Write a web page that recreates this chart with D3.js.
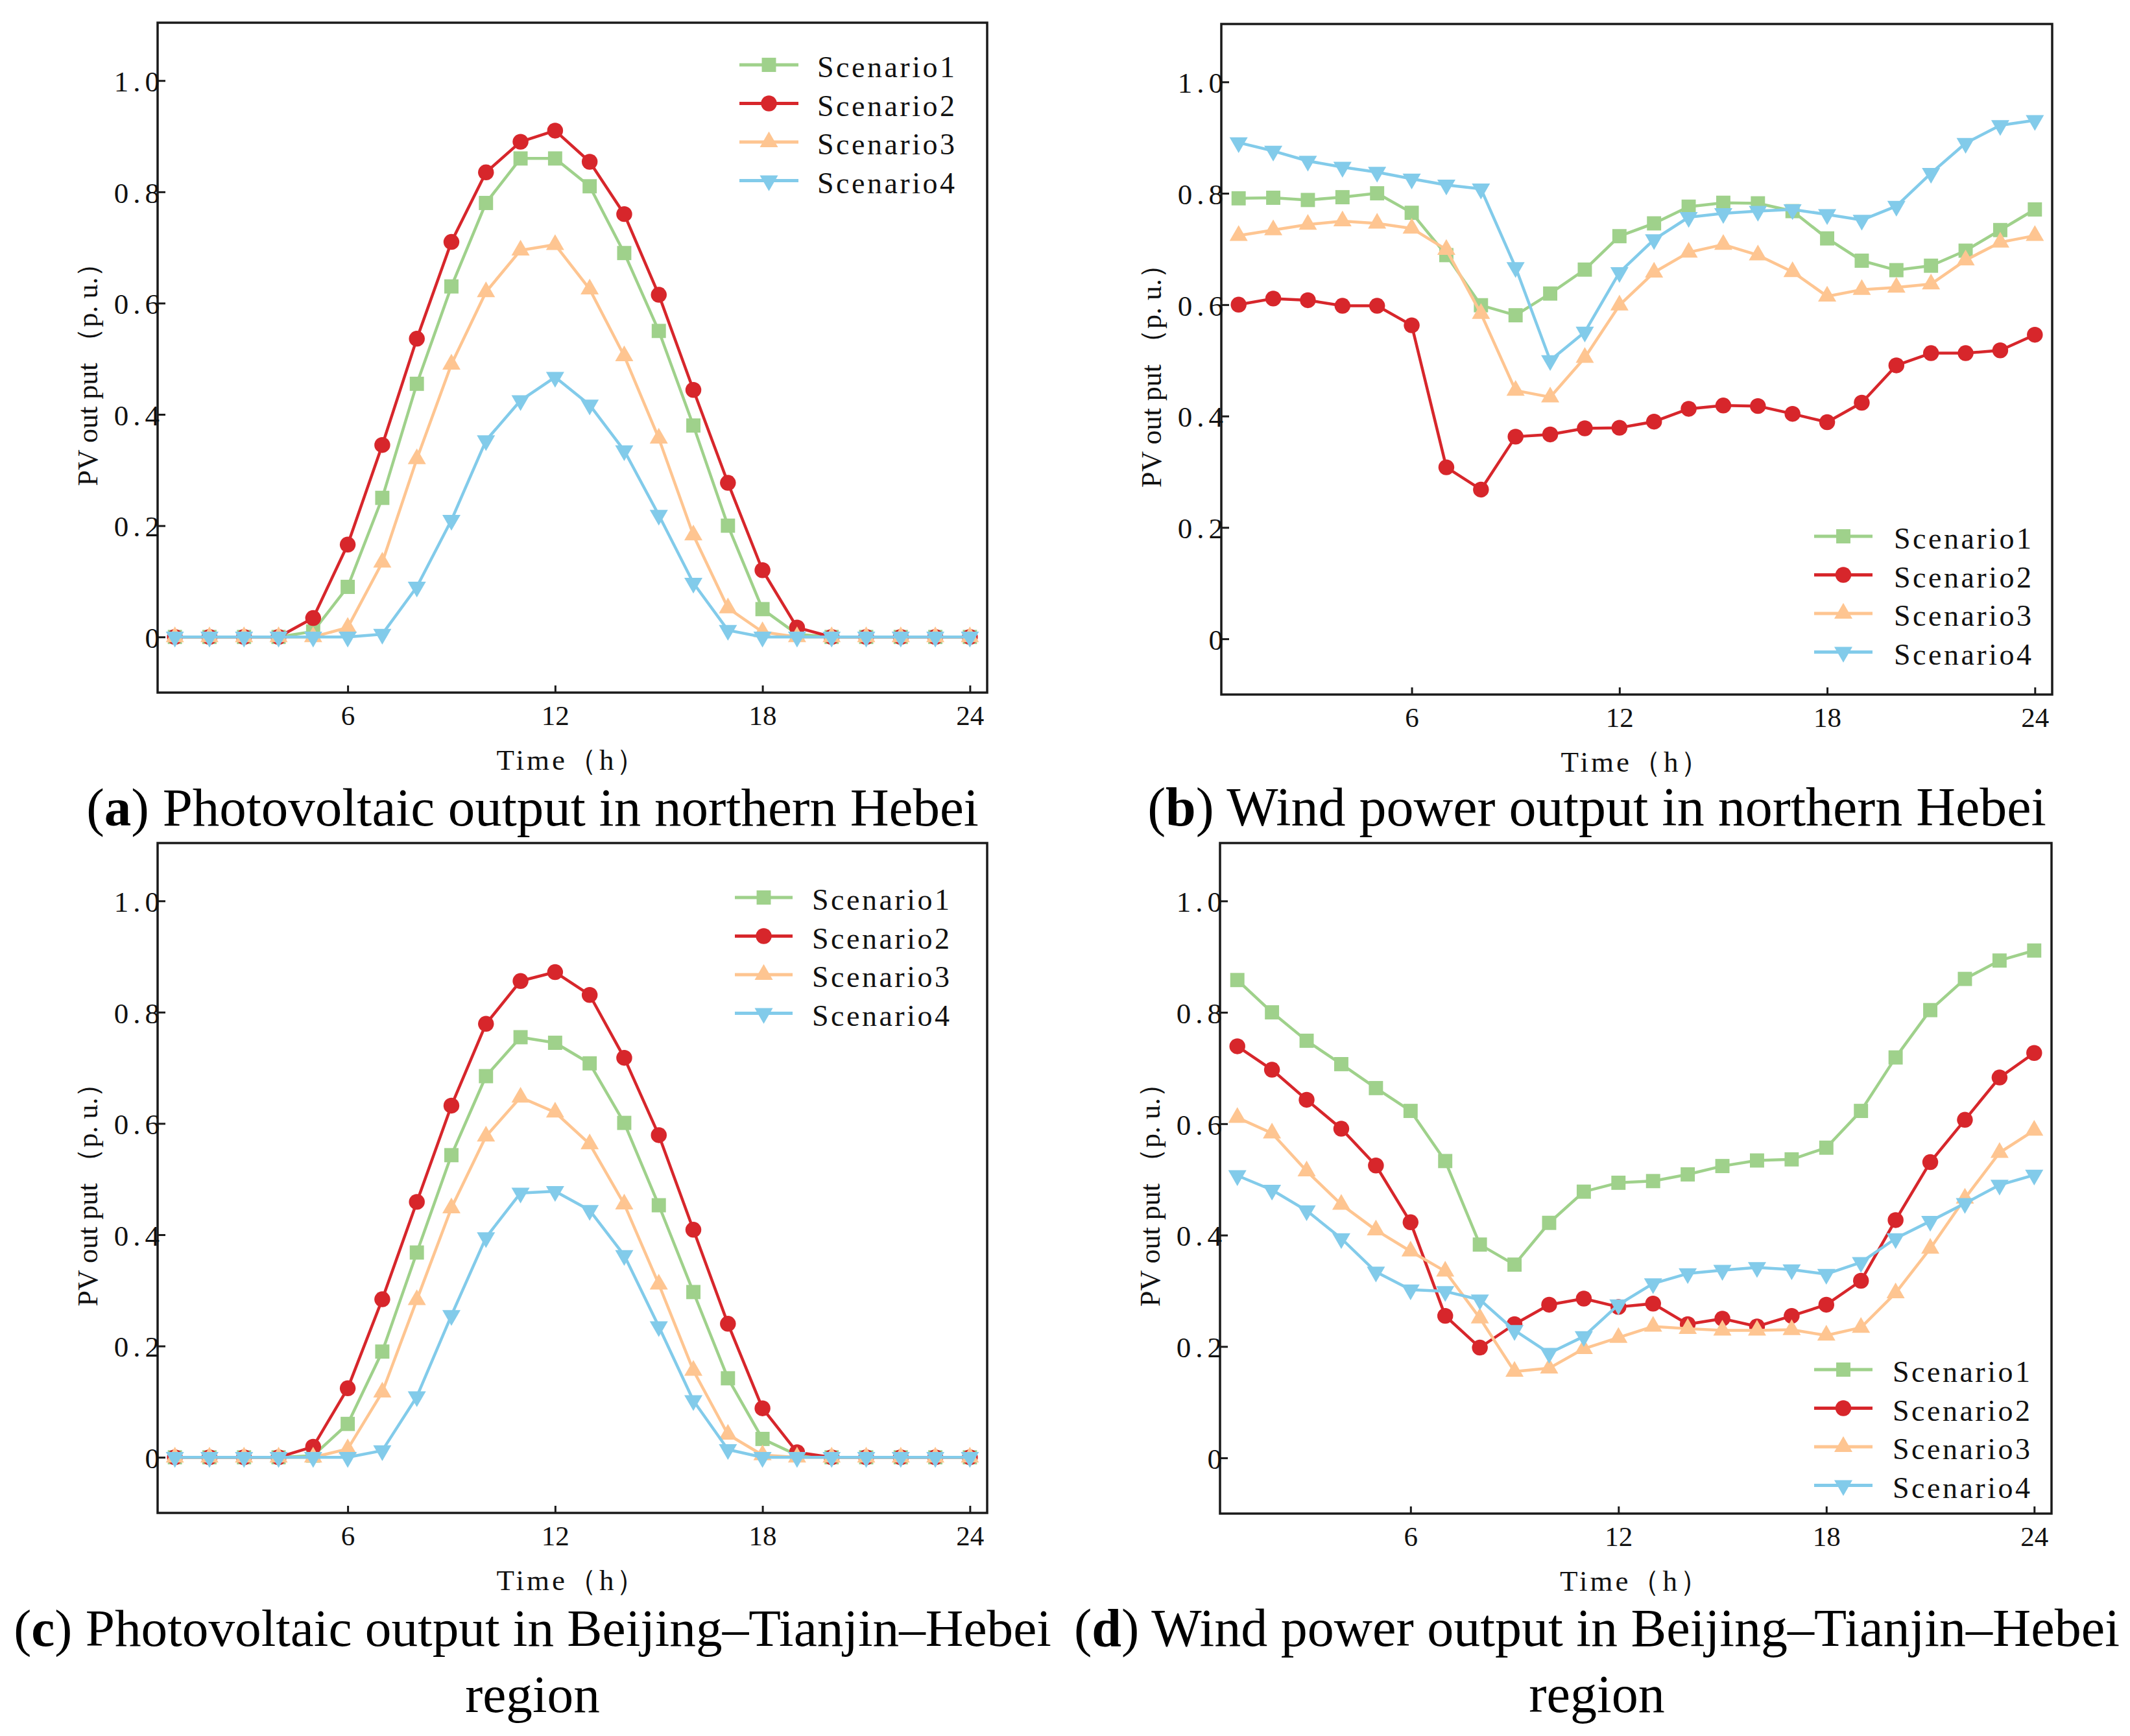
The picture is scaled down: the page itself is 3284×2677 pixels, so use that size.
<!DOCTYPE html>
<html><head><meta charset="utf-8">
<script src="https://cdn.jsdelivr.net/npm/d3@7/dist/d3.min.js"></script>
<style>body{margin:0;background:#fff} svg{display:block}</style>
</head><body>
<svg id="chart" width="3284" height="2677"></svg>
<script>
// ---------- data ----------
const hours = [1,2,3,4,5,6,7,8,9,10,11,12,13,14,15,16,17,18,19,20,21,22,23,24];
const xTickValues = [6,12,18,24];
const yTickValues = [0,0.2,0.4,0.6,0.8,1.0];
const seriesNames = ["Scenario1","Scenario2","Scenario3","Scenario4"];
const seriesColors = ["#9fd18b","#d7262b","#fec591","#82cbea"];
const seriesSymbols = ["square","circle","triangle","triangleDown"];

// (a) PV northern Hebei
const pvNorthS1 = [0,0,0,0,0.01,0.09,0.25,0.455,0.63,0.78,0.86,0.86,0.81,0.69,0.55,0.38,0.20,0.05,0.005,0,0,0,0,0];
const pvNorthS2 = [0,0,0,0,0.034,0.166,0.345,0.536,0.71,0.835,0.89,0.91,0.854,0.76,0.615,0.444,0.277,0.12,0.017,0,0,0,0,0];
const pvNorthS3 = [0,0,0,0,0,0.017,0.134,0.32,0.49,0.62,0.695,0.705,0.625,0.505,0.357,0.183,0.052,0.009,0,0,0,0,0,0];
const pvNorthS4 = [0,0,0,0,0,0,0.005,0.09,0.21,0.353,0.425,0.467,0.417,0.335,0.219,0.097,0.012,0,0,0,0,0,0,0];
// (b) Wind northern Hebei
const windNorthS1 = [0.791,0.792,0.788,0.793,0.80,0.765,0.689,0.599,0.581,0.62,0.663,0.723,0.746,0.776,0.783,0.782,0.768,0.719,0.679,0.662,0.670,0.697,0.734,0.771];
const windNorthS2 = [0.60,0.611,0.608,0.598,0.598,0.563,0.308,0.268,0.363,0.367,0.378,0.379,0.39,0.413,0.419,0.418,0.404,0.389,0.424,0.491,0.513,0.513,0.518,0.546];
const windNorthS3 = [0.724,0.734,0.744,0.75,0.746,0.737,0.699,0.584,0.446,0.434,0.505,0.599,0.658,0.694,0.708,0.689,0.659,0.615,0.627,0.631,0.637,0.68,0.712,0.724];
const windNorthS4 = [0.891,0.876,0.858,0.847,0.838,0.826,0.815,0.808,0.667,0.50,0.551,0.658,0.717,0.757,0.764,0.768,0.771,0.762,0.752,0.777,0.836,0.89,0.922,0.931];
// (c) PV Beijing–Tianjin–Hebei
const pvJJJS1 = [0,0,0,0,0.003,0.06,0.19,0.368,0.543,0.685,0.755,0.745,0.708,0.601,0.453,0.297,0.142,0.033,0.004,0,0,0,0,0];
const pvJJJS2 = [0,0,0,0,0.019,0.124,0.284,0.459,0.632,0.779,0.856,0.872,0.831,0.718,0.579,0.409,0.24,0.088,0.009,0,0,0,0,0];
const pvJJJS3 = [0,0,0,0,0,0.015,0.117,0.283,0.448,0.577,0.647,0.62,0.563,0.455,0.311,0.156,0.041,0.004,0,0,0,0,0,0];
const pvJJJS4 = [0,0,0,0,0,0,0.012,0.109,0.255,0.395,0.475,0.478,0.444,0.363,0.235,0.102,0.014,0,0,0,0,0,0,0];
// (d) Wind Beijing–Tianjin–Hebei
const windJJJS1 = [0.858,0.80,0.749,0.707,0.664,0.623,0.533,0.383,0.347,0.422,0.478,0.494,0.497,0.509,0.524,0.534,0.536,0.557,0.623,0.719,0.804,0.86,0.893,0.911];
const windJJJS2 = [0.739,0.697,0.643,0.591,0.525,0.423,0.255,0.198,0.24,0.275,0.286,0.271,0.277,0.24,0.25,0.236,0.255,0.275,0.318,0.427,0.531,0.607,0.683,0.727];
const windJJJS3 = [0.611,0.583,0.515,0.455,0.409,0.371,0.335,0.251,0.155,0.161,0.196,0.216,0.236,0.232,0.229,0.229,0.23,0.22,0.234,0.296,0.376,0.466,0.548,0.588];
const windJJJS4 = [0.507,0.481,0.444,0.394,0.334,0.302,0.299,0.284,0.229,0.188,0.218,0.275,0.313,0.331,0.337,0.342,0.338,0.33,0.351,0.394,0.425,0.457,0.49,0.508];

const yAxisTitle = "PV out put （p. u.）";
const xAxisTitle = "Time（h）";

// ---------- layout ----------
const panels = [
  {series:[pvNorthS1,pvNorthS2,pvNorthS3,pvNorthS4], frame:{l:243,t:35,r:1522,b:1068},
   legend:{x1:1140,x2:1231,tx:1260,y:100}, caption:[{letter:"a",text:" Photovoltaic output in northern Hebei"}], capX:821, capY:1273, capW:1376},
  {series:[windNorthS1,windNorthS2,windNorthS3,windNorthS4], frame:{l:1883,t:37,r:3164,b:1071},
   legend:{x1:2797,x2:2887,tx:2920,y:827}, caption:[{letter:"b",text:" Wind power output in northern Hebei"}], capX:2462, capY:1273, capW:1386},
  {series:[pvJJJS1,pvJJJS2,pvJJJS3,pvJJJS4], frame:{l:243,t:1300,r:1522,b:2333},
   legend:{x1:1133,x2:1222,tx:1252,y:1384}, caption:[{letter:"c",text:" Photovoltaic output in Beijing–Tianjin–Hebei"},{text:"region"}], capX:821, capY:2538, capW:1600},
  {series:[windJJJS1,windJJJS2,windJJJS3,windJJJS4], frame:{l:1881,t:1300,r:3163,b:2334},
   legend:{x1:2797,x2:2887,tx:2918,y:2112}, caption:[{letter:"d",text:" Wind power output in Beijing–Tianjin–Hebei"},{text:"region"}], capX:2462, capY:2538, capW:1612}
];

const svg = d3.select("#chart");
const tickFont = "'Liberation Serif','Times New Roman',serif";
const capFont = "'Liberation Serif','Times New Roman',serif";

const symbolFor = {
  square: d3.symbol().type(d3.symbolSquare).size(480),
  circle: d3.symbol().type(d3.symbolCircle).size(470),
  triangle: d3.symbol().type(d3.symbolTriangle).size(340),
  triangleDown: d3.symbol().type(d3.symbolTriangle).size(340)
};
function drawMarker(g, kind, x, y, color){
  g.append("path").attr("d", symbolFor[kind]())
    .attr("transform", `translate(${x},${y})` + (kind==="triangleDown" ? " rotate(180)" : ""))
    .attr("fill", color);
}

panels.forEach(p => {
  const f = p.frame;
  const x = d3.scaleLinear().domain([0.5,24.5]).range([f.l,f.r]);
  const y = d3.scaleLinear().domain([-0.1,1.104]).range([f.b,f.t]);
  const g = svg.append("g");

  // series
  p.series.forEach((vals,si) => {
    const line = d3.line().x((d,i)=>x(hours[i])).y(d=>y(d));
    g.append("path").datum(vals).attr("d", line)
      .attr("fill","none").attr("stroke",seriesColors[si]).attr("stroke-width",4.5)
      .attr("stroke-linejoin","round");
    vals.forEach((v,i)=> drawMarker(g, seriesSymbols[si], x(hours[i]), y(v), seriesColors[si]));
  });

  // frame
  g.append("rect").attr("x",f.l).attr("y",f.t).attr("width",f.r-f.l).attr("height",f.b-f.t)
    .attr("fill","none").attr("stroke","#1a1a1a").attr("stroke-width",3.5);

  // y axis
  const ya = g.append("g").attr("transform",`translate(${f.l},0)`)
    .call(d3.axisLeft(y).tickValues(yTickValues).tickSize(-12).tickPadding(-10)
      .tickFormat(d => d===0 ? "0" : d3.format(".1f")(d)));
  ya.select(".domain").remove();
  ya.selectAll(".tick line").attr("stroke","#1a1a1a").attr("stroke-width",3);
  ya.selectAll(".tick text").attr("font-family",tickFont).attr("font-size",45)
    .attr("fill","#111").style("letter-spacing","7px").attr("dy","0.36em");

  // x axis
  const xa = g.append("g").attr("transform",`translate(0,${f.b})`)
    .call(d3.axisBottom(x).tickValues(xTickValues).tickSize(-11).tickPadding(19).tickFormat(d3.format("d")));
  xa.select(".domain").remove();
  xa.selectAll(".tick line").attr("stroke","#1a1a1a").attr("stroke-width",3);
  xa.selectAll(".tick text").attr("font-family",tickFont).attr("font-size",43).attr("fill","#111");

  // axis titles
  g.append("text").attr("x",(f.l+f.r)/2).attr("y",f.b+119).attr("text-anchor","middle")
    .attr("font-family",tickFont).attr("font-size",45).attr("fill","#111")
    .style("letter-spacing","4px").text(xAxisTitle);
  const cy = (f.t+f.b)/2 + 15;
  g.append("text").attr("transform",`translate(${f.l-108},${cy}) rotate(-90)`)
    .attr("text-anchor","middle").attr("dominant-baseline","central")
    .attr("font-family",tickFont).attr("font-size",44).attr("fill","#111")
    .text(yAxisTitle);

  // legend
  const L = p.legend;
  seriesNames.forEach((name,si) => {
    const ry = L.y + si*59.5;
    g.append("line").attr("x1",L.x1).attr("x2",L.x2).attr("y1",ry).attr("y2",ry)
      .attr("stroke",seriesColors[si]).attr("stroke-width",5);
    drawMarker(g, seriesSymbols[si], (L.x1+L.x2)/2, ry, seriesColors[si]);
    g.append("text").attr("x",L.tx).attr("y",ry+19).attr("font-family",tickFont)
      .attr("font-size",46).attr("fill","#111").style("letter-spacing","3.5px").text(name);
  });

  // caption
  p.caption.forEach((c,li) => {
    const t = svg.append("text").attr("x",p.capX).attr("y",p.capY + li*102)
      .attr("text-anchor","middle").attr("font-family",capFont).attr("font-size",74).attr("fill","#000");
    if (c.letter){
      t.append("tspan").text("(");
      t.append("tspan").attr("font-weight","bold").text(c.letter);
      t.append("tspan").text(")" + c.text);
      const w = t.node().getComputedTextLength();
      const fs = Math.max(60, Math.min(90, 74 * p.capW / w));
      t.attr("font-size", fs);
      p.capFs = fs;
    } else {
      t.attr("font-size", p.capFs || 74).text(c.text);
    }
  });
});
</script>
</body></html>
